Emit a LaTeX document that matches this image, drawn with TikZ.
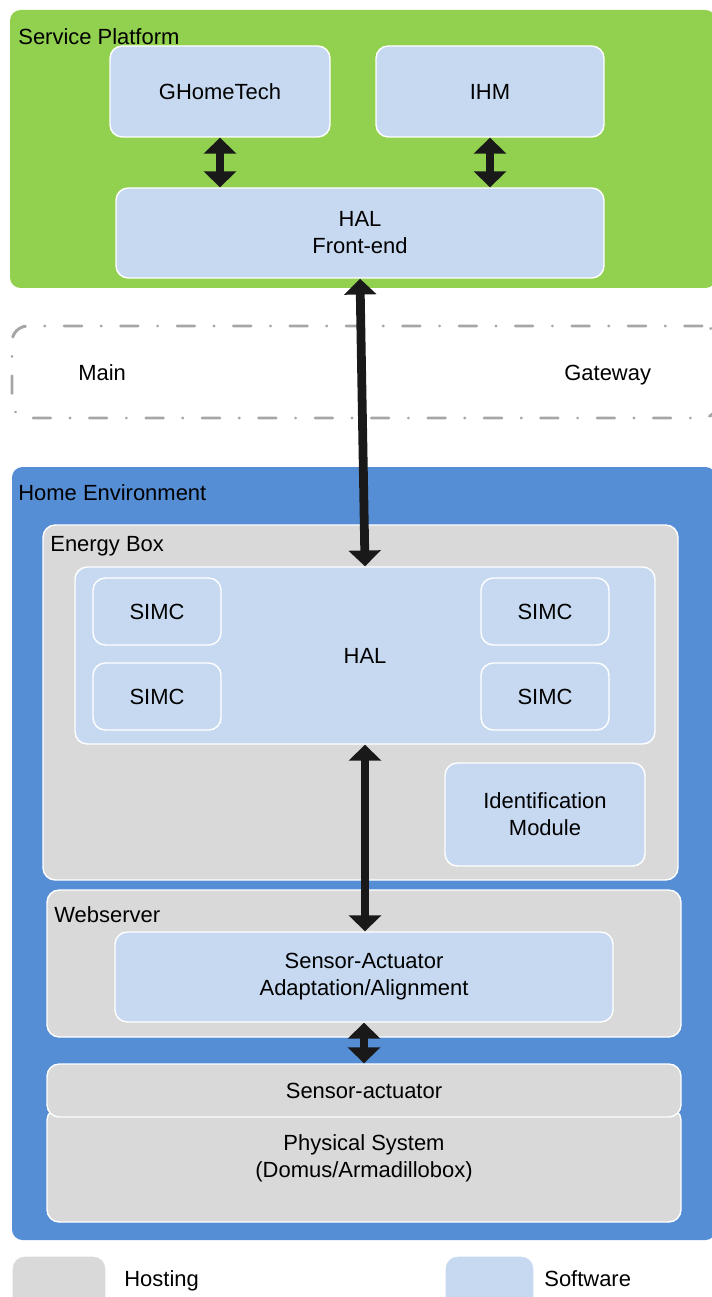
\documentclass[tikz,border=0pt]{standalone}
\usepackage{fontspec}
\setmainfont{Liberation Sans}
\usetikzlibrary{arrows.meta,fit,positioning}

\definecolor{platgreen}{HTML}{92D050}
\definecolor{homeblue}{HTML}{558ED5}
\definecolor{softblue}{HTML}{C6D9F1}
\definecolor{hostgray}{HTML}{D9D9D9}
\definecolor{gwgray}{HTML}{A6A6A6}

\begin{document}
\begin{tikzpicture}[x=0.02cm, y=-0.02cm,
  every node/.style={font=\fontsize{12.5}{15.4}\selectfont},
  area/.style={rounded corners=6pt, inner sep=0pt},
  hostbox/.style={fill=hostgray, draw=white, line width=0.8pt, rounded corners=7pt, inner sep=0pt},
  softbox/.style={fill=softblue, draw=white, line width=0.8pt, rounded corners=7pt, inner sep=0pt},
  boxtext/.style={label={[align=center]center:#1}},
  tag/.style={anchor=base west, inner sep=0pt},
  link/.style={{Triangle[width=18pt,length=9pt]}-{Triangle[width=18pt,length=9pt]}, line width=5pt, draw=black!90}]
\useasboundingbox (0,0) rectangle (712,1297);

% service platform
\node[area, fill=platgreen, fit={(10,10) (716,288)}] (platform) {};
\node[tag] (platformtag) at (18,45) {Service Platform};
\node[softbox, boxtext=GHomeTech, fit={(110,46) (330,137)}] (ghome) {};
\node[softbox, boxtext=IHM, fit={(376,46) (604,137)}] (ihm) {};
\node[softbox, boxtext={HAL\\Front-end}, fit={(116,188) (604,278)}] (frontend) {};

% gateway
\node[area, rounded corners=9pt, draw=gwgray, line width=1.7pt, line cap=round,
  dash pattern=on 10pt off 11pt on 0.1pt off 11pt, fit={(12,326) (718,418)}] (gateway) {};
\node[tag] (maintag) at (78,380) {Main};
\node[tag] (gatewaytag) at (564,380) {Gateway};

% home environment
\node[area, fill=homeblue, fit={(12,467) (716,1240)}] (home) {};
\node[tag] (hometag) at (18,500) {Home Environment};
\node[hostbox, fit={(43,525) (678,880)}] (energybox) {};
\node[tag] (energytag) at (50,551) {Energy Box};
\node[softbox, boxtext=HAL, fit={(75,567) (655,744)}] (hal) {};
\node[softbox, boxtext=SIMC, fit={(93,578) (221,645)}] (simca) {};
\node[softbox, boxtext=SIMC, fit={(93,663) (221,730)}] (simcb) {};
\node[softbox, boxtext=SIMC, fit={(481,578) (609,645)}] (simcc) {};
\node[softbox, boxtext=SIMC, fit={(481,663) (609,730)}] (simcd) {};
\node[softbox, boxtext={Identification\\Module}, fit={(445,763) (645,866)}] (ident) {};

\node[hostbox, fit={(47,890) (681,1037)}] (webserver) {};
\node[tag] (webtag) at (54,922) {Webserver};
\node[softbox, boxtext={Sensor-Actuator\\Adaptation/Alignment}, fit={(115,932) (613,1022)}] (adapt) {};

\node[hostbox, fit={(47,1108) (681,1222)}] (physical) {};
\node[align=center] (physlabel) at (364,1158) {Physical System\\(Domus/Armadillobox)};
\node[hostbox, boxtext=Sensor-actuator, fit={(47,1064) (681,1117)}] (sensact) {};

% legend
\node[hostbox, fit={(12,1256) (106,1310)}] (hostkey) {};
\node[tag] (hostkeytag) at (124,1286) {Hosting};
\node[softbox, fit={(445,1256) (534,1310)}] (softkey) {};
\node[tag] (softkeytag) at (544,1286) {Software};

% links
\draw[link] (ghome.south) -- (ghome.south |- frontend.north);
\draw[link] (ihm.south) -- (ihm.south |- frontend.north);
\draw[link] (frontend.south) -- (hal.north);
\draw[link] (hal.south) -- (hal.south |- adapt.north);
\draw[link] (adapt.south) -- (sensact.north);
\end{tikzpicture}
\end{document}
